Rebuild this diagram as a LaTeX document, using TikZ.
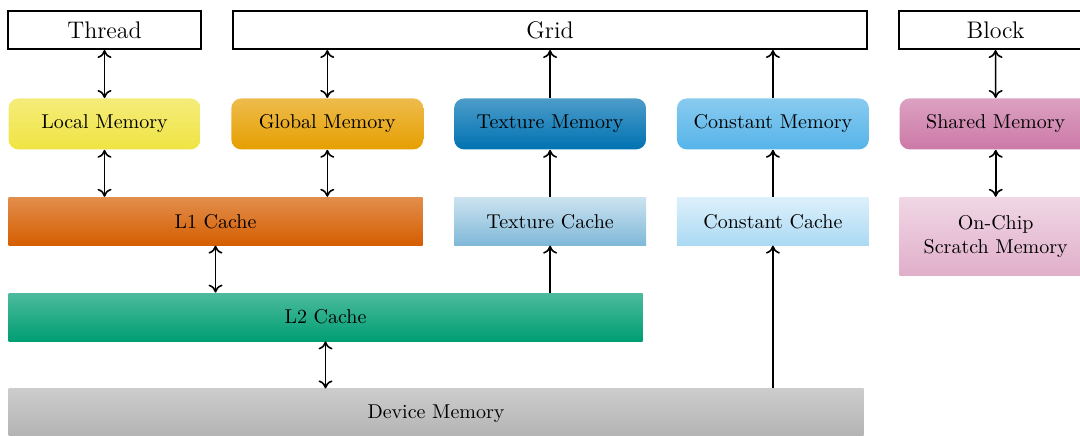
\documentclass[tikz,border=0pt]{standalone}
\usepackage{tikz}
\usepackage{xcolor}
\usetikzlibrary{arrows.meta,positioning}
\definecolor{localmem}{HTML}{F0E442}
\definecolor{globalmem}{HTML}{E69F00}
\definecolor{texmem}{HTML}{0072B2}
\definecolor{constmem}{HTML}{56B4E9}
\definecolor{sharedmem}{HTML}{CC79A7}
\definecolor{lonecache}{HTML}{D55E00}
\definecolor{ltwocache}{HTML}{009E73}

\begin{document}
\begin{tikzpicture}[
  x=0.5pt, y=-0.5pt,
  every node/.style={font=\normalsize},
  scopebox/.style={rectangle, draw=black, line width=1pt,
    minimum width=96.5pt, minimum height=19pt, font=\large},
  memory/.style={rectangle, rounded corners=5pt, minimum width=96pt,
    minimum height=25.5pt, top color=#1!70, bottom color=#1},
  cache/.style={rectangle, minimum height=24pt, top color=#1!70, bottom color=#1},
  lightcache/.style={rectangle, minimum width=96pt, minimum height=24pt,
    top color=#1!20, bottom color=#1!50},
  link/.style={{To[length=4pt,width=7pt]}-{To[length=4pt,width=7pt]}, line width=0.8pt},
  arrow/.style={-{To[length=4pt,width=7pt]}, line width=0.8pt},
]
\useasboundingbox (0,0) rectangle (1080,435);

% Scopes
\node[scopebox] (thread) at (104.5,30) {Thread};
\node[scopebox, minimum width=317pt, right=15pt of thread] (grid) {Grid};
\node[scopebox, right=15pt of grid] (block) {Block};

% Memory spaces
\node[memory=localmem, below=24pt of thread] (local) {Local Memory};
\node[memory=globalmem, right=15pt of local] (global) {Global Memory};
\node[memory=texmem, right=15pt of global] (texture) {Texture Memory};
\node[memory=constmem, right=15pt of texture] (constant) {Constant Memory};
\node[memory=sharedmem, right=15pt of constant] (shared) {Shared Memory};

% Caches
\node[cache=lonecache, minimum width=207pt, below=23.5pt of local.south west,
  anchor=north west] (lone) {L1 Cache};
\node[lightcache=texmem, below=23.5pt of texture] (texcache) {Texture Cache};
\node[lightcache=constmem, below=23.5pt of constant] (constcache) {Constant Cache};
\node[rectangle, minimum width=96pt, minimum height=39pt, align=center,
  top color=sharedmem!30, bottom color=sharedmem!60,
  below=23.5pt of shared] (scratch) {On-Chip\\Scratch Memory};
\node[cache=ltwocache, minimum width=317pt, below=23.5pt of lone.south west,
  anchor=north west] (ltwo) {L2 Cache};
\node[rectangle, minimum width=427.5pt, minimum height=25pt,
  top color=gray!40, bottom color=gray!60, below=23.5pt of ltwo.south west,
  anchor=north west] (device) {Device Memory};

% Arrows
\draw[link] (thread) -- (local);
\draw[link] (grid.south -| global) -- (global);
\draw[arrow] (texture) -- (texture |- grid.south);
\draw[arrow] (constant) -- (constant |- grid.south);
\draw[link] (block) -- (shared);
\draw[link] (local) -- (local |- lone.north);
\draw[link] (global) -- (global |- lone.north);
\draw[arrow] (texcache) -- (texture);
\draw[arrow] (constcache) -- (constant);
\draw[link] (shared) -- (scratch);
\draw[link] (lone) -- (lone |- ltwo.north);
\draw[arrow] (ltwo.north -| texcache) -- (texcache);
\draw[link] (ltwo) -- (ltwo |- device.north);
\draw[arrow] (device.north -| constcache) -- (constcache);
\end{tikzpicture}
\end{document}
